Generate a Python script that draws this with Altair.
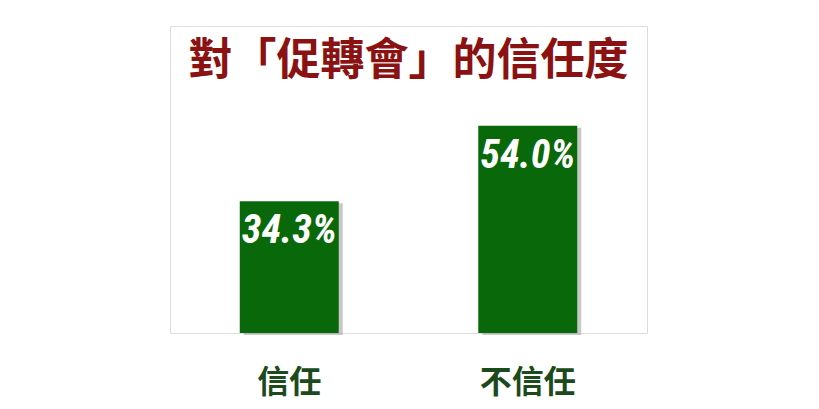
import altair as alt
import pandas as pd

categories = ["信任", "不信任"]
values = [34.3, 54.0]
labels = ["34.3%", "54.0%"]
title_text = "對「促轉會」的信任度"

df = pd.DataFrame({"cat": categories, "val": values, "label": labels})

x_enc = alt.X("cat:N", sort=categories, title=None,
              scale=alt.Scale(paddingInner=0.585, paddingOuter=0.2925),
              axis=alt.Axis(labelAngle=0, labelFontSize=32, labelFont="Noto Sans CJK TC",
                            labelFontWeight="bold", labelColor="#1c4a1c", labelPadding=34,
                            labelBaseline="top", ticks=False, domain=False, grid=False))
y_enc = alt.Y("val:Q", scale=alt.Scale(domain=[0, 80], nice=False), axis=None)

base = alt.Chart(df)

shadow = base.mark_bar(color="#9a9a9a", opacity=0.55, xOffset=4, yOffset=2).encode(x=x_enc, y=y_enc)
bars = base.mark_bar(color="#096809").encode(x=x_enc, y=y_enc)
text = base.mark_text(baseline="top", dy=10, color="white", fontSize=40, fontWeight="bold",
                      fontStyle="italic",
                      font="Liberation Sans Narrow, Roboto Condensed, Roboto").encode(
    x=x_enc, y=y_enc, text="label:N")

title_df = pd.DataFrame({"t": [title_text]})
title_mark = alt.Chart(title_df).mark_text(fontSize=44, font="Noto Sans CJK TC", fontWeight="bold",
                                           color="#8b1212", baseline="middle").encode(
    x=alt.value(238.5), y=alt.value(36), text="t:N")

chart = alt.layer(shadow, bars, text, title_mark).properties(
    width=477, height=307,
    padding={"left": 162, "top": 18, "right": 5, "bottom": 10},
).configure_view(stroke="#c8c8c8", strokeWidth=1.2).configure(background="white")

chart.save("out.html", embed_options={"renderer": "svg", "actions": False})
